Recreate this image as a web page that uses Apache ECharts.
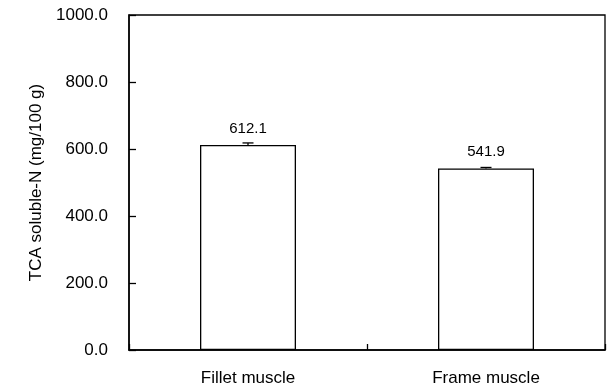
<!DOCTYPE html>
<html>
<head>
  <meta charset="utf-8">
  <style>
    html, body { margin: 0; padding: 0; width: 100%; height: 100%; overflow: hidden; background: #fff; }
  </style>
  <script src="https://cdn.jsdelivr.net/npm/echarts@6/dist/echarts.min.js"></script>
</head>
<body>
  <div id="container" style="width: 608px; height: 388px;"></div>
  <script>
    var categories = ['Fillet muscle', 'Frame muscle'];
    var values = [612.1, 541.9];
    var errors = [6, 3];
    var yTicks = [0, 200, 400, 600, 800, 1000];

    var font = '"Liberation Sans", Arial, sans-serif';
    var chart = echarts.init(document.getElementById('container'), null, { renderer: 'canvas' });

    var option = {
      animation: false,
      grid: {
        left: 129, right: 3, top: 15, bottom: 38,
        show: true, borderColor: '#000', borderWidth: 1.3
      },
      xAxis: {
        type: 'category',
        data: categories,
        axisLine: { lineStyle: { color: '#000', width: 1.5 } },
        axisTick: { show: true, inside: true, length: 6, lineStyle: { color: '#000', width: 1.3 } },
        axisLabel: { color: '#000', fontSize: 17, fontFamily: font, margin: 20 }
      },
      yAxis: {
        type: 'value',
        min: yTicks[0],
        max: yTicks[yTicks.length - 1],
        interval: 200,
        name: 'TCA soluble-N (mg/100 g)',
        nameLocation: 'middle',
        nameGap: 83,
        nameTextStyle: { color: '#000', fontSize: 17, fontFamily: font },
        splitLine: { show: false },
        axisLine: { show: true, lineStyle: { color: '#000', width: 1.5 } },
        axisTick: { show: true, inside: true, length: 7, lineStyle: { color: '#000', width: 1.3 } },
        axisLabel: {
          color: '#000', fontSize: 17, fontFamily: font, margin: 21,
          formatter: function (v) { return v.toFixed(1); }
        }
      },
      series: [{
        type: 'bar',
        data: values,
        barWidth: 96,
        itemStyle: { color: '#fff', borderColor: '#000', borderWidth: 1.3 },
        label: {
          show: true, position: 'top', distance: 9,
          color: '#000', fontSize: 15, fontFamily: font,
          formatter: function (p) { return p.value.toFixed(1); }
        },
        z: 2
      }, {
        type: 'custom',
        data: values.map(function (v, i) { return [i, v, v + errors[i]]; }),
        renderItem: function (params, api) {
          var base = api.coord([api.value(0), api.value(1)]);
          var top = api.coord([api.value(0), api.value(2)]);
          var half = 5.5;
          var style = { stroke: '#000', lineWidth: 1.3 };
          return {
            type: 'group',
            children: [
              { type: 'line', shape: { x1: base[0], y1: base[1], x2: top[0], y2: top[1] }, style: style },
              { type: 'line', shape: { x1: top[0] - half, y1: top[1], x2: top[0] + half, y2: top[1] }, style: style }
            ]
          };
        },
        z: 3
      }]
    };

    chart.setOption(option);
    window.addEventListener('resize', chart.resize);
  </script>
</body>
</html>
